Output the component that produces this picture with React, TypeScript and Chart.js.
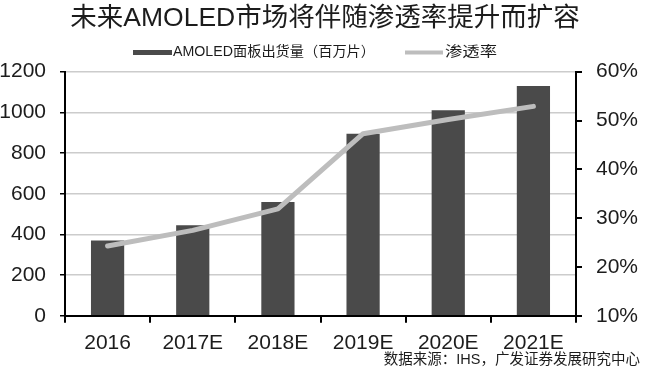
import React, { useEffect, useRef } from "react";
import { Chart, registerables } from "chart.js";

Chart.register(...registerables);

const categories = ["2016", "2017E", "2018E", "2019E", "2020E", "2021E"];
const shipments = [370, 445, 560, 895, 1010, 1130];
const penetration = [24.3, 27.5, 31.9, 47.3, 50.2, 52.9];
const leftAxis = { min: 0, max: 1200, step: 200 };
const rightAxis = { min: 10, max: 60, step: 10 };
const seriesNames = ["AMOLED面板出货量（百万片）", "渗透率"];
const titleText = "未来AMOLED市场将伴随渗透率提升而扩容";
const sourceText = "数据来源：IHS，广发证券发展研究中心";

const BAR_COLOR = "#4a4a4a";
const LINE_COLOR = "#bdbdbd";
const TEXT_COLOR = "#1c1c1c";
const FONT = '"Liberation Sans", Arial, "Noto Sans CJK SC", sans-serif';

const decorPlugin = {
  id: "decor",
  afterDraw(chart: any) {
    const ctx = chart.ctx as CanvasRenderingContext2D;
    const area = chart.chartArea;
    ctx.save();
    // legend
    const ly = 52.5;
    ctx.font = "14px " + FONT;
    ctx.textBaseline = "middle";
    ctx.textAlign = "left";
    const x0 = area.left + 68;
    ctx.fillStyle = BAR_COLOR;
    ctx.fillRect(x0, ly - 2.5, 39, 5);
    ctx.fillStyle = TEXT_COLOR;
    const t1 = seriesNames[0];
    const w1 = ctx.measureText(t1).width;
    const target1 = 202;
    ctx.save();
    ctx.translate(x0 + 40, ly);
    ctx.scale(target1 / w1, 1);
    ctx.fillText(t1, 0, 0);
    ctx.restore();
    const x1 = x0 + 40 + target1 + 30;
    ctx.fillStyle = LINE_COLOR;
    ctx.fillRect(x1, ly - 2, 38, 4);
    ctx.fillStyle = TEXT_COLOR;
    const t2 = seriesNames[1];
    const w2 = ctx.measureText(t2).width;
    ctx.save();
    ctx.translate(x1 + 40, ly);
    ctx.scale(52 / w2, 1);
    ctx.fillText(t2, 0, 0);
    ctx.restore();
    // source
    ctx.font = "14.5px " + FONT;
    ctx.textAlign = "right";
    ctx.fillStyle = TEXT_COLOR;
    ctx.fillText(sourceText, chart.width - 10, 360);
    ctx.restore();
  },
};

export default function App() {
  const ref = useRef<HTMLCanvasElement | null>(null);
  useEffect(() => {
    if (!ref.current) return;
    const chart = new Chart(ref.current, {
      type: "bar",
      data: {
        labels: categories,
        datasets: [
          {
            type: "bar",
            label: seriesNames[0],
            data: shipments,
            backgroundColor: BAR_COLOR,
            borderWidth: 0,
            barPercentage: 0.39,
            categoryPercentage: 1,
            yAxisID: "y",
            order: 1,
          },
          {
            type: "line",
            label: seriesNames[1],
            data: penetration,
            borderColor: LINE_COLOR,
            backgroundColor: LINE_COLOR,
            borderWidth: 5,
            pointRadius: 0,
            tension: 0,
            borderCapStyle: "round",
            borderJoinStyle: "round",
            yAxisID: "y1",
            order: 0,
          },
        ],
      },
      options: {
        responsive: false,
        devicePixelRatio: 1,
        animation: false,
        layout: { padding: { top: 0, left: 0, right: 0, bottom: 14 } },
        plugins: {
          legend: { display: false },
          tooltip: { enabled: false },
          title: {
            display: true,
            text: titleText,
            color: TEXT_COLOR,
            font: { family: FONT, size: 26.5, weight: "normal", lineHeight: 1.2 },
            padding: { top: 3.1, bottom: 36.8 },
          },
        },
        scales: {
          x: {
            offset: true,
            grid: {
              drawOnChartArea: false,
              tickLength: 7,
              tickColor: "#000",
              lineWidth: 2,
              offset: true,
            },
            border: { color: "#000", width: 2 },
            ticks: {
              color: TEXT_COLOR,
              font: { family: FONT, size: 21, lineHeight: 1.2 },
              padding: 8,
              maxRotation: 0,
            },
          },
          y: {
            position: "left",
            min: leftAxis.min,
            max: leftAxis.max,
            afterFit: (s: any) => {
              s.width = 65;
            },
            grid: {
              color: "#cccccc",
              lineWidth: 1.5,
              tickColor: "#000",
              tickLength: 5,
            },
            border: { color: "#000", width: 2 },
            ticks: {
              stepSize: leftAxis.step,
              color: TEXT_COLOR,
              font: { family: FONT, size: 21 },
              padding: 14,
              callback: (v: any) => String(v),
            },
          },
          y1: {
            position: "right",
            min: rightAxis.min,
            max: rightAxis.max,
            afterFit: (s: any) => {
              s.width = 74;
            },
            grid: {
              drawOnChartArea: false,
              tickColor: "#000",
              tickLength: 6,
              lineWidth: 2,
            },
            border: { color: "#000", width: 2 },
            ticks: {
              stepSize: rightAxis.step,
              color: TEXT_COLOR,
              font: { family: FONT, size: 21 },
              padding: 14,
              callback: (v: any) => v + "%",
            },
          },
        },
      },
      plugins: [decorPlugin],
    } as any);
    return () => chart.destroy();
  }, []);
  return (
    <div style={{ position: "fixed", left: 0, top: 0, width: 650, height: 378, background: "#fff" }}>
      <canvas ref={ref} width={650} height={378} style={{ display: "block" }} />
    </div>
  );
}
